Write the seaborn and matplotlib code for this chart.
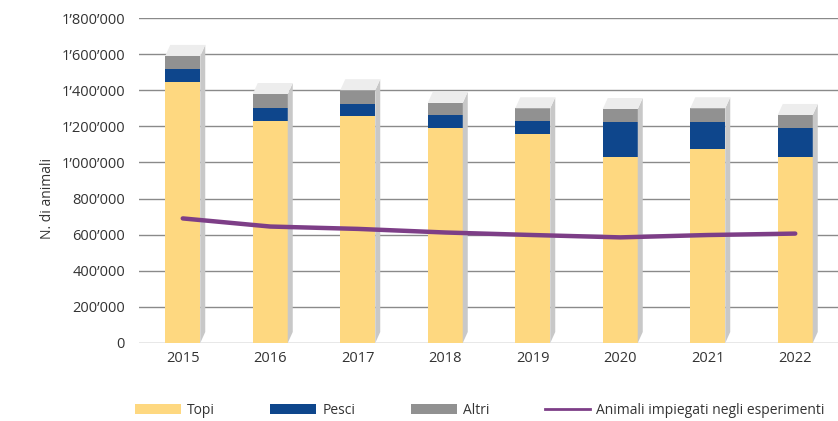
import matplotlib
matplotlib.use("Agg")
import matplotlib.pyplot as plt
from matplotlib import font_manager
from matplotlib.patches import Polygon, Patch
from matplotlib.lines import Line2D
from matplotlib.ticker import FuncFormatter, MultipleLocator
import seaborn as sns
import pandas as pd

# dati
anni = ["2015", "2016", "2017", "2018", "2019", "2020", "2021", "2022"]
topi = [1446000, 1230000, 1259000, 1189000, 1158000, 1032000, 1073000, 1032000]
pesci = [72000, 72000, 63000, 74000, 72000, 194000, 153000, 157000]
altri = [72000, 77000, 78000, 67000, 70000, 70000, 74000, 74000]
impiegati = [690000, 645000, 632000, 612000, 598000, 585000, 598000, 606000]

col_topi = "#FED880"
col_pesci = "#0E468C"
col_altri = "#919191"
col_linea = "#7D3E87"
col_lato = "#C8C8C8"
col_cima = "#EDEDED"
col_testo = "#333333"

df = pd.DataFrame({"anno": anni, "topi": topi, "pesci": pesci,
                   "altri": altri, "impiegati": impiegati})
df["topi_pesci"] = df["topi"] + df["pesci"]
df["totale"] = df["topi_pesci"] + df["altri"]

names = {f.name for f in font_manager.fontManager.ttflist}
font = "Open Sans" if "Open Sans" in names else "DejaVu Sans"
plt.rcParams["font.family"] = [font, "DejaVu Sans"]

W, H = 838, 421
fig = plt.figure(figsize=(W / 100, H / 100), dpi=100)
ax_l, ax_r, ax_t, ax_b = 139, 839, 18, 343
ax = fig.add_axes([ax_l / W, 1 - ax_b / H, (ax_r - ax_l) / W, (ax_b - ax_t) / H])

ymax = 1800000
bar_w = 0.4

# barre impilate: totale, poi topi+pesci, poi topi
sns.barplot(data=df, x="anno", y="totale", color=col_altri, width=bar_w,
            saturation=1, ax=ax, zorder=2)
fronts = list(ax.patches)
sns.barplot(data=df, x="anno", y="topi_pesci", color=col_pesci, width=bar_w,
            saturation=1, ax=ax, zorder=2)
sns.barplot(data=df, x="anno", y="topi", color=col_topi, width=bar_w,
            saturation=1, ax=ax, zorder=2)

ax.set_xlim(-0.5, len(anni) - 0.5)
ax.set_ylim(0, ymax)

# finto effetto 3D: lato destro e faccia superiore
dx = 5 * len(anni) / (ax_r - ax_l)
dy = 11 * ymax / (ax_b - ax_t)
for p in fronts:
    x0 = p.get_x()
    x1 = x0 + p.get_width()
    h = p.get_height()
    ax.add_patch(Polygon([(x1, 0), (x1, h), (x1 + dx, h + dy), (x1 + dx, dy)],
                         closed=True, facecolor=col_lato, edgecolor="none", zorder=2))
    ax.add_patch(Polygon([(x0, h), (x1, h), (x1 + dx, h + dy), (x0 + dx, h + dy)],
                         closed=True, facecolor=col_cima, edgecolor="none", zorder=2))

sns.pointplot(data=df, x="anno", y="impiegati", color=col_linea, markers="",
              errorbar=None, linewidth=3.2, ax=ax, zorder=4)
for ln in ax.lines:
    ln.set_solid_capstyle("round")
    ln.set_solid_joinstyle("round")

ax.set_xlim(-0.5, len(anni) - 0.5)
ax.set_ylim(0, ymax)
ax.yaxis.set_major_locator(MultipleLocator(200000))
ax.yaxis.set_major_formatter(FuncFormatter(lambda v, pos: f"{v:,.0f}".replace(",", "\u2019")))
ax.grid(axis="y", color="#8A8A8A", linewidth=1.0)
ax.grid(axis="x", visible=False)
ax.set_axisbelow(True)
for s in ax.spines.values():
    s.set_visible(False)
ax.tick_params(axis="both", length=0, labelsize=10.5, labelcolor=col_testo)
ax.tick_params(axis="y", pad=10)
ax.tick_params(axis="x", pad=6)
ax.set_xlabel("")
ax.set_ylabel("")
ax.set_facecolor("none")

fig.text(47 / W, 1 - 198 / H, "N. di animali", rotation=90, ha="center", va="center",
         fontsize=10, color=col_testo)

handles = [Patch(facecolor=col_topi, edgecolor="none"),
           Patch(facecolor=col_pesci, edgecolor="none"),
           Patch(facecolor=col_altri, edgecolor="none"),
           Line2D([0], [0], color=col_linea, linewidth=2)]
labels = ["Topi", "Pesci", "Altri", "Animali impiegati negli esperimenti"]
fig.legend(handles, labels, loc="center", bbox_to_anchor=(480 / W, 1 - 410 / H),
           ncol=4, frameon=False, handlelength=3.3, handleheight=0.75,
           handletextpad=0.43, columnspacing=4.0,
           prop={"size": 10}, labelcolor=col_testo)

fig.savefig("out.png", dpi=100)
